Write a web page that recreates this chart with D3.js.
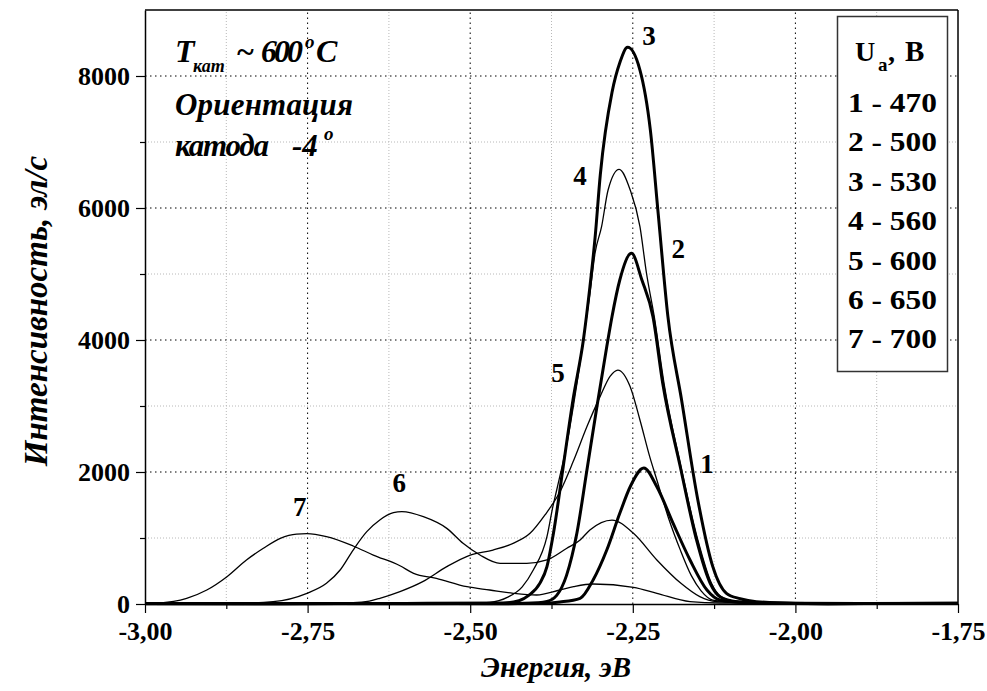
<!DOCTYPE html>
<html><head><meta charset="utf-8">
<script src="https://cdn.jsdelivr.net/npm/d3@7"></script>
<style>
body{margin:0;background:#fff;}
svg{display:block;}
text{font-family:"Liberation Serif","Times New Roman",serif;fill:#000;}
</style>
</head><body>
<svg id="chart" width="987" height="691"></svg>
<script>
// ---- data ----
const xTickValues = [-3.00, -2.75, -2.50, -2.25, -2.00, -1.75];
const xTickLabels = ["-3,00", "-2,75", "-2,50", "-2,25", "-2,00", "-1,75"];
const xMinorValues = [-2.875, -2.625, -2.375, -2.125, -1.875];
const yTickValues = [0, 2000, 4000, 6000, 8000];
const yMinorValues = [1000, 3000, 5000, 7000];

const legendTitle = "U";
const legendItems = ["1 - 470", "2 - 500", "3 - 530", "4 - 560", "5 - 600", "6 - 650", "7 - 700"];
const curveNames = ["1", "2", "3", "4", "5", "6", "7"];

// curve 1 (470 V)
const e1 = [-3.00, -2.80, -2.60, -2.45, -2.39, -2.362, -2.331, -2.311, -2.290, -2.270, -2.254, -2.233, -2.213, -2.188, -2.162, -2.136, -2.116, -2.09, -2.05, -1.95, -1.85, -1.75];
const i1 = [5, 8, 4, 6, 10, 30, 86, 364, 818, 1374, 1777, 2060, 1777, 1222, 667, 212, 60, 30, 12, 5, 8, 10];
// curve 2 (500 V)
const e2 = [-3.00, -2.80, -2.60, -2.45, -2.41, -2.382, -2.367, -2.352, -2.336, -2.321, -2.305, -2.290, -2.282, -2.270, -2.252, -2.236, -2.219, -2.204, -2.177, -2.152, -2.131, -2.116, -2.09, -2.05, -1.95, -1.85, -1.75];
const i2 = [6, 4, 8, 5, 12, 40, 130, 430, 1071, 2000, 3000, 3900, 4353, 4909, 5313, 4909, 4353, 3344, 2080, 970, 313, 110, 35, 14, 5, 9, 6];
// curve 3 (530 V)
const e3 = [-3.00, -2.80, -2.60, -2.45, -2.425, -2.41, -2.393, -2.382, -2.372, -2.357, -2.342, -2.326, -2.316, -2.308, -2.300, -2.282, -2.270, -2.258, -2.239, -2.223, -2.211, -2.196, -2.175, -2.150, -2.127, -2.106, -2.085, -2.06, -2.00, -1.90, -1.75];
const i3 = [8, 5, 9, 15, 50, 130, 313, 566, 1071, 2080, 3091, 4000, 4800, 5550, 6500, 7750, 8200, 8435, 8090, 7180, 5920, 4353, 3091, 1576, 566, 162, 80, 35, 12, 6, 10];
// curve 4 (560 V)
const e4 = [-3.00, -2.70, -2.50, -2.47, -2.443, -2.420, -2.403, -2.382, -2.373, -2.367, -2.350, -2.335, -2.326, -2.316, -2.308, -2.298, -2.288, -2.271, -2.254, -2.239, -2.229, -2.217, -2.202, -2.176, -2.150, -2.129, -2.114, -2.09, -2.00, -1.75];
const i4 = [8, 10, 12, 25, 100, 260, 515, 1020, 1470, 1727, 2500, 3400, 4000, 4700, 5318, 5717, 6273, 6586, 6273, 5717, 5015, 4353, 3344, 2080, 970, 313, 110, 40, 15, 10];
// curve 5 (600 V)
const e5 = [-3.00, -2.75, -2.68, -2.655, -2.639, -2.608, -2.573, -2.536, -2.500, -2.465, -2.434, -2.408, -2.385, -2.362, -2.342, -2.320, -2.300, -2.285, -2.273, -2.254, -2.239, -2.224, -2.213, -2.195, -2.177, -2.160, -2.145, -2.127, -2.10, -2.05, -1.75];
const i5 = [10, 12, 20, 45, 86, 187, 338, 566, 742, 818, 919, 1071, 1350, 1700, 2150, 2700, 3150, 3450, 3545, 3292, 2788, 2232, 1879, 1300, 820, 430, 200, 60, 30, 15, 10];
// curve 6 (650 V)
const e6 = [-3.00, -2.85, -2.803, -2.751, -2.721, -2.700, -2.680, -2.659, -2.639, -2.618, -2.605, -2.572, -2.536, -2.511, -2.485, -2.454, -2.413, -2.382, -2.352, -2.331, -2.316, -2.282, -2.249, -2.213, -2.176, -2.147, -2.121, -2.08, -1.75];
const i6 = [10, 14, 35, 162, 313, 515, 818, 1096, 1273, 1383, 1400, 1323, 1146, 919, 742, 616, 616, 667, 840, 970, 1121, 1272, 1071, 667, 313, 111, 35, 18, 10];
// curve 7 (700 V)
const e7 = [-3.00, -2.975, -2.956, -2.936, -2.905, -2.874, -2.844, -2.818, -2.792, -2.767, -2.751, -2.721, -2.680, -2.649, -2.608, -2.587, -2.552, -2.505, -2.470, -2.434, -2.398, -2.362, -2.341, -2.311, -2.249, -2.213, -2.162, -2.116, -1.75];
const i7 = [10, 18, 40, 86, 212, 414, 667, 844, 995, 1060, 1065, 1020, 879, 742, 580, 465, 389, 262, 212, 162, 136, 212, 262, 303, 253, 162, 35, 15, 10];

const energies = [e1, e2, e3, e4, e5, e6, e7];
const intensities = [i1, i2, i3, i4, i5, i6, i7];
const thick = [true, true, true, false, false, false, false];
const labelPos = [[-2.136, 2121], [-2.180, 5379], [-2.225, 8606], [-2.331, 6485], [-2.365, 3500], [-2.609, 1841], [-2.762, 1470]];

// ---- drawing ----
const svg = d3.select("#chart");
svg.append("rect").attr("width", 987).attr("height", 691).attr("fill", "#fff");

const x = d3.scaleLinear().domain([-3.00, -1.75]).range([145, 958]);
const y = d3.scaleLinear().domain([0, 9000]).range([604, 10]);

const grid = svg.append("g");
grid.selectAll(".gxm").data(xMinorValues).join("line")
  .attr("x1", d => x(d)).attr("x2", d => x(d)).attr("y1", y(0)).attr("y2", y(9000))
  .attr("stroke", "#b8b8b8").attr("stroke-width", 1).attr("stroke-dasharray", "1,2");
grid.selectAll(".gym").data(yMinorValues).join("line")
  .attr("x1", x(-3)).attr("x2", x(-1.75)).attr("y1", d => y(d)).attr("y2", d => y(d))
  .attr("stroke", "#b8b8b8").attr("stroke-width", 1).attr("stroke-dasharray", "1,2");
grid.selectAll(".gx").data(xTickValues.slice(1, -1)).join("line")
  .attr("x1", d => x(d)).attr("x2", d => x(d)).attr("y1", y(0)).attr("y2", y(9000))
  .attr("stroke", "#000").attr("stroke-width", 1).attr("stroke-dasharray", "1.5,3.5");
grid.selectAll(".gy").data(yTickValues.slice(1)).join("line")
  .attr("x1", x(-3)).attr("x2", x(-1.75)).attr("y1", d => y(d)).attr("y2", d => y(d))
  .attr("stroke", "#000").attr("stroke-width", 1).attr("stroke-dasharray", "1.5,3.5");

// curves
const line = d3.line().x(d => x(d[0])).y(d => y(d[1])).curve(d3.curveMonotoneX);
const curvesG = svg.append("g");
energies.forEach((es, k) => {
  const pts = es.map((e, j) => [e, intensities[k][j]]);
  curvesG.append("path").datum(pts)
    .attr("d", line).attr("fill", "none").attr("stroke", "#000")
    .attr("stroke-width", thick[k] ? 3 : 1.3).attr("stroke-linejoin", "round");
});

// frame
svg.append("line").attr("x1", x(-3)).attr("x2", x(-1.75)).attr("y1", y(9000)).attr("y2", y(9000)).attr("stroke", "#000").attr("stroke-width", 1.5);
svg.append("line").attr("x1", x(-1.75)).attr("x2", x(-1.75)).attr("y1", y(9000)).attr("y2", y(0)).attr("stroke", "#000").attr("stroke-width", 1.5);

// axes
const fontTick = g => g.selectAll("text").style("font-family", "'Liberation Serif', serif").style("font-weight", "bold").style("font-size", "26px").attr("fill", "#000");
const yAxis = svg.append("g").attr("transform", `translate(${x(-3)},0)`)
  .call(d3.axisLeft(y).tickValues(yTickValues).tickSize(9).tickSizeOuter(0).tickPadding(6).tickFormat(d3.format("d")));
yAxis.call(fontTick);
svg.append("g").attr("transform", `translate(${x(-3)},0)`)
  .call(d3.axisLeft(y).tickValues(yMinorValues).tickSize(5).tickSizeOuter(0).tickFormat(""))
  .select(".domain").remove();
const xAxis = svg.append("g").attr("transform", `translate(0,${y(0)})`)
  .call(d3.axisBottom(x).tickValues(xTickValues).tickSize(9).tickSizeOuter(0).tickPadding(9).tickFormat((d, i) => xTickLabels[i]));
xAxis.call(fontTick);
svg.append("g").attr("transform", `translate(0,${y(0)})`)
  .call(d3.axisBottom(x).tickValues(xMinorValues).tickSize(5).tickSizeOuter(0).tickFormat(""))
  .select(".domain").remove();
svg.selectAll(".domain").attr("stroke-width", 1.5);
svg.selectAll(".tick line").attr("stroke-width", 1.2);

// axis titles
svg.append("text").attr("transform", "translate(47,311) rotate(-90)").attr("text-anchor", "middle")
  .style("font-size", "33px").style("font-weight", "bold").style("font-style", "italic")
  .text("Интенсивность, эл/с");
svg.append("text").attr("x", 556).attr("y", 677).attr("text-anchor", "middle")
  .style("font-size", "29px").style("font-weight", "bold").style("font-style", "italic")
  .text("Энергия, эВ");

// annotation
const ann = svg.append("g").style("font-weight", "bold").style("font-style", "italic");
const t1 = ann.append("text").attr("y", 62);
t1.append("tspan").attr("x", 175).style("font-size", "32px").text("T");
t1.append("tspan").attr("x", 193).attr("y", 72).style("font-size", "18px").text("кат");
t1.append("tspan").attr("x", 236).attr("y", 62).style("font-size", "32px").text("~");
t1.append("tspan").attr("x", 261).attr("y", 62).style("font-size", "32px").attr("textLength", 42).text("600");
t1.append("tspan").attr("x", 305).attr("y", 48).style("font-size", "19px").text("o");
t1.append("tspan").attr("x", 316).attr("y", 62).style("font-size", "32px").text("C");
ann.append("text").attr("x", 175).attr("y", 115).style("font-size", "31px").attr("textLength", 178).text("Ориентация");
const t3 = ann.append("text").attr("y", 156);
t3.append("tspan").attr("x", 175).style("font-size", "31px").attr("textLength", 94).text("катода");
t3.append("tspan").attr("x", 292).attr("y", 156).style("font-size", "31px").text("-4");
t3.append("tspan").attr("x", 324).attr("y", 140).style("font-size", "19px").text("o");

// curve labels
svg.append("g").selectAll("text").data(curveNames).join("text")
  .attr("x", (d, k) => x(labelPos[k][0])).attr("y", (d, k) => y(labelPos[k][1]))
  .attr("text-anchor", "middle").attr("dy", "0.35em")
  .style("font-size", "27px").style("font-weight", "bold").text(d => d);

// legend
const lg = svg.append("g");
lg.append("rect").attr("x", 837.5).attr("y", 16.5).attr("width", 110).attr("height", 355)
  .attr("fill", "#fff").attr("stroke", "#333").attr("stroke-width", 1.5);
const lt = lg.append("text").attr("y", 61).style("font-size", "28px").style("font-weight", "bold");
lt.append("tspan").attr("x", 855).text(legendTitle);
lt.append("tspan").attr("x", 878).attr("y", 71).style("font-size", "19px").text("a");
lt.append("tspan").attr("x", 888).attr("y", 61).text(",");
lt.append("tspan").attr("x", 905).attr("y", 61).style("font-size", "29px").text("B");
lg.selectAll(".li").data(legendItems).join("text")
  .attr("x", 848).attr("y", (d, k) => 112 + k * 39.4)
  .attr("textLength", 89).attr("lengthAdjust", "spacingAndGlyphs")
  .style("font-size", "27px").style("font-weight", "bold").text(d => d);
</script>
</body></html>
